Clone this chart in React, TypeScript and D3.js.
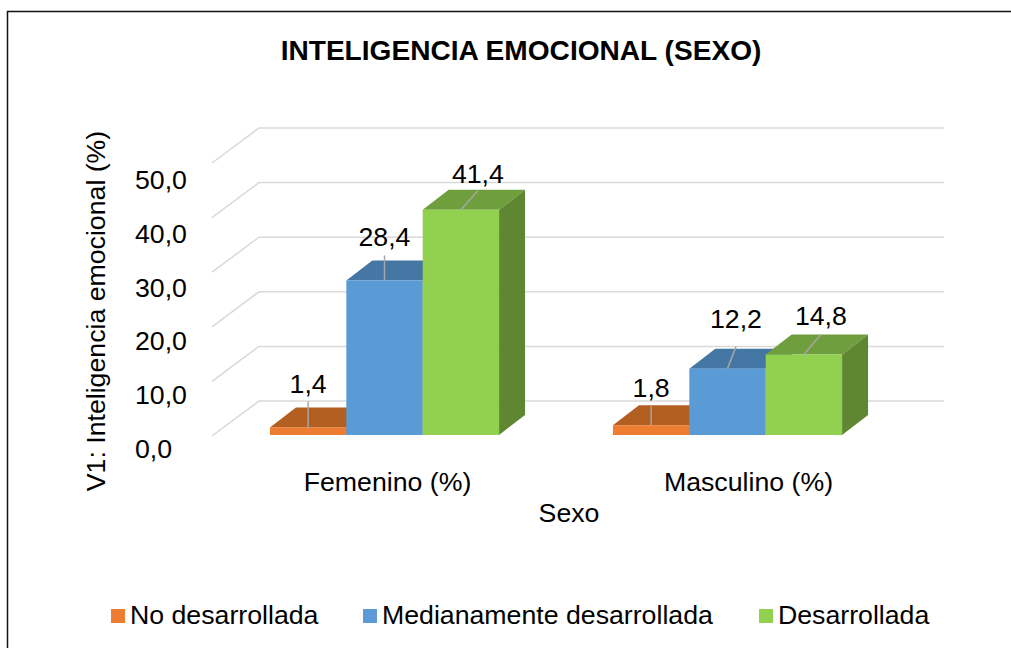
import * as d3 from "d3";

const categories = ["Femenino (%)", "Masculino (%)"];
const seriesNames = ["No desarrollada", "Medianamente desarrollada", "Desarrollada"];
const noDesarrollada = [1.4, 1.8];
const medianamente = [28.4, 12.2];
const desarrollada = [41.4, 14.8];
const yTicks = [0, 10, 20, 30, 40, 50];

const seriesValues = [noDesarrollada, medianamente, desarrollada];
const colors = ["#ED7D31", "#5B9BD5", "#92D050"];
const topColors = ["#B45F22", "#4577A4", "#6F9F3C"];
const sideColors = ["#A3561F", "#3F6C96", "#5F8732"];

// leader line end relative to bar top front centre, one per [series][category]
const leaders = [
  [[0, -26], [0, -19]],
  [[0, -25], [8.5, -22]],
  [[17, -19], [17, -20]],
];
// gap between leader end and label baseline
const labelGaps = [
  [8, 9],
  [10, 19],
  [8, 9],
];
const catLabelDx = [3, 21];
const legendX = [111, 363, 759];

const fontFamily = "'Liberation Sans', Arial, sans-serif";
const fontSize = 26.7;
const fmt = (v: number) => v.toFixed(1).replace(".", ",");

export default function App() {
  const y = d3.scaleLinear().domain([0, 50]).range([435, 163]);
  const yWall = d3.scaleLinear().domain([0, 50]).range([401, 128]);
  const yLabel = d3.scaleLinear().domain([0, 50]).range([458, 189]);
  const x0 = d3.scaleBand().domain(categories).range([213, 899]).paddingInner(0.332).paddingOuter(0.166);
  const x1 = d3.scaleBand().domain(seriesNames).range([0, x0.bandwidth()]);

  // floor and bar depth of the fake 3D
  const wallDx = 47;
  const wallDy = 35;
  const barDx = 26;
  const barDy = 20;
  const wallLeft = 259;
  const wallRight = 944;

  return (
    <svg
      width={1011}
      height={648}
      style={{ position: "absolute", left: 0, top: 0, background: "#fff" }}
      fontFamily={fontFamily}
    >
      <path d="M7.5,648V11.5H1011" fill="none" stroke="#111" strokeWidth={1.5} />
      <text x={521} y={60} textAnchor="middle" fontSize={28.1} fontWeight="bold" fill="#000">
        INTELIGENCIA EMOCIONAL (SEXO)
      </text>

      {yTicks.map((t) => (
        <g key={t}>
          <path
            d={`M${wallLeft - wallDx},${yWall(t) + wallDy}L${wallLeft},${yWall(t)}H${wallRight}`}
            fill="none"
            stroke="#D9D9D9"
            strokeWidth={1.5}
          />
          <text x={135} y={yLabel(t)} fontSize={fontSize} fill="#000">
            {fmt(t)}
          </text>
        </g>
      ))}

      <text
        transform="translate(105,311) rotate(-90)"
        textAnchor="middle"
        fontSize={fontSize}
        fill="#000"
      >
        V1: Inteligencia emocional (%)
      </text>

      {categories.map((c, ci) => (
        <g key={c}>
          {seriesNames.map((s, si) => {
            const v = seriesValues[si][ci];
            const left = x0(c)! + x1(s)!;
            const w = x1.bandwidth();
            const top = y(v);
            const base = y(0);
            return (
              <g key={s}>
                <path
                  d={`M${left},${top}l${barDx},${-barDy}h${w}l${-barDx},${barDy}Z`}
                  fill={topColors[si]}
                />
                <path
                  d={`M${left + w},${top}l${barDx},${-barDy}V${base - barDy}l${-barDx},${barDy}Z`}
                  fill={sideColors[si]}
                />
                <rect x={left} y={top} width={w} height={base - top} fill={colors[si]} />
              </g>
            );
          })}
          {seriesNames.map((s, si) => {
            const v = seriesValues[si][ci];
            const cx = x0(c)! + x1(s)! + x1.bandwidth() / 2;
            const top = y(v);
            const [dx, dy] = leaders[si][ci];
            return (
              <g key={s}>
                <line x1={cx} y1={top} x2={cx + dx} y2={top + dy} stroke="#A6A6A6" strokeWidth={1.5} />
                <text
                  x={cx + dx}
                  y={top + dy - labelGaps[si][ci]}
                  textAnchor="middle"
                  fontSize={fontSize}
                  fill="#000"
                >
                  {fmt(v)}
                </text>
              </g>
            );
          })}
          <text
            x={x0(c)! + x0.bandwidth() / 2 + catLabelDx[ci]}
            y={491}
            textAnchor="middle"
            fontSize={fontSize}
            fill="#000"
          >
            {c}
          </text>
        </g>
      ))}

      <text x={569} y={522} textAnchor="middle" fontSize={fontSize} fill="#000">
        Sexo
      </text>

      {seriesNames.map((s, i) => (
        <g key={s}>
          <rect x={legendX[i]} y={609} width={14} height={14} fill={colors[i]} />
          <text x={legendX[i] + 19} y={624} fontSize={fontSize} fill="#000">
            {s}
          </text>
        </g>
      ))}
    </svg>
  );
}
